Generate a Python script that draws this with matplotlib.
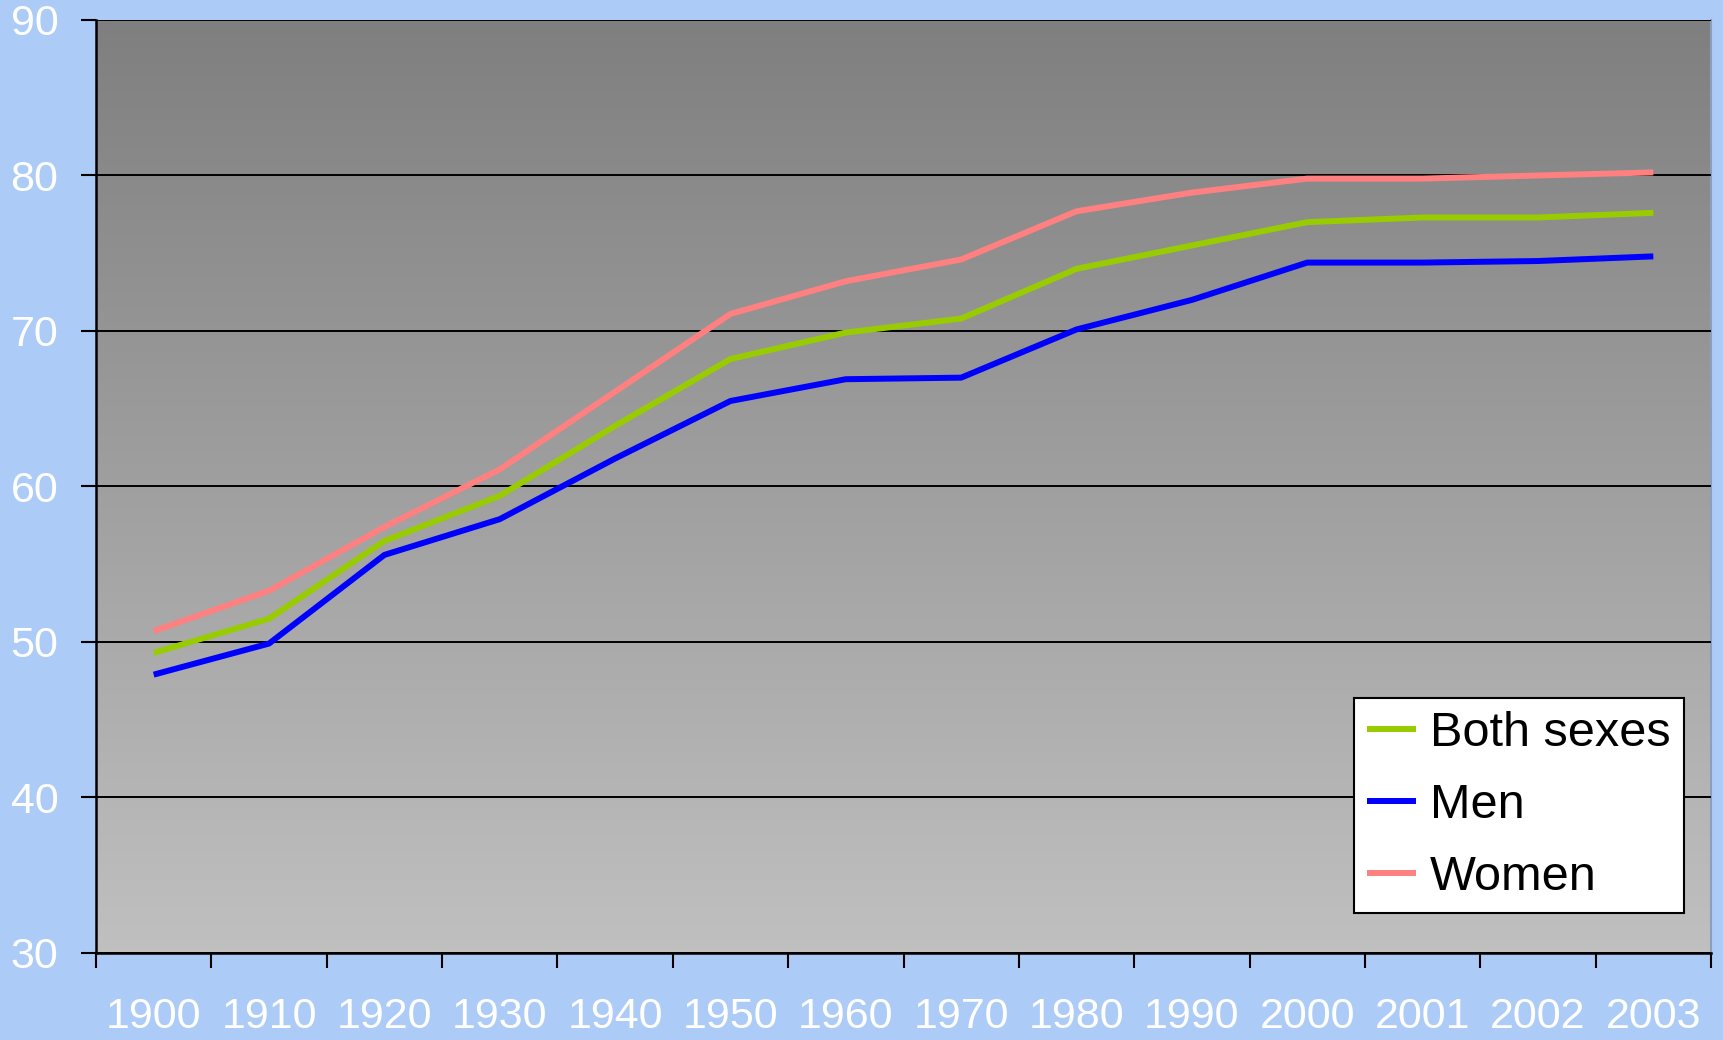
import numpy as np
import matplotlib
matplotlib.use("Agg")
import matplotlib.pyplot as plt
from matplotlib import font_manager as fm
from matplotlib.colors import LinearSegmentedColormap

years = ["1900", "1910", "1920", "1930", "1940", "1950", "1960", "1970",
         "1980", "1990", "2000", "2001", "2002", "2003"]
both_sexes = [49.3, 51.5, 56.5, 59.4, 63.9, 68.2, 69.9, 70.8, 74.0, 75.5, 77.0, 77.3, 77.3, 77.6]
men = [47.9, 49.9, 55.6, 57.9, 61.8, 65.5, 66.9, 67.0, 70.1, 72.0, 74.4, 74.4, 74.5, 74.8]
women = [50.7, 53.3, 57.4, 61.1, 66.1, 71.1, 73.2, 74.6, 77.7, 78.9, 79.8, 79.8, 80.0, 80.2]
series_names = ["Both sexes", "Men", "Women"]
yticks = [30, 40, 50, 60, 70, 80, 90]

names = {f.name for f in fm.fontManager.ttflist}
base = "Liberation Sans" if "Liberation Sans" in names else "DejaVu Sans"
narrow = "Liberation Sans Narrow" if "Liberation Sans Narrow" in names else base
plt.rcParams["font.family"] = [base, "DejaVu Sans"]

fig = plt.figure(figsize=(17.23, 10.40), dpi=100, facecolor="#ADCBF7")
ax = fig.add_axes([96/1723, 1-953/1040, (1711-96)/1723, (953-20)/1040])
ax.set_facecolor("none")

# gradient background
grad = np.linspace(0, 1, 256).reshape(-1, 1)
cmap = LinearSegmentedColormap.from_list("g", ["#7F7F7F", "#C0C0C0"])
ax.imshow(grad, aspect="auto", cmap=cmap, extent=[0, 1, 0, 1],
          transform=ax.transAxes, zorder=0, origin="upper")

x = np.arange(len(years))
colors = ["#99CC00", "#0000FF", "#FF8080"]
for vals, name, c in zip([both_sexes, men, women], series_names, colors):
    ax.plot(x, vals, color=c, lw=4.3, label=name, zorder=3, solid_capstyle="butt")

ax.set_xlim(-0.5, len(years) - 0.5)
ax.set_ylim(30, 90)
ax.set_yticks(yticks)
ax.set_yticklabels([str(v) for v in yticks], color="white", fontsize=31)
ax.yaxis.grid(True, color="black", lw=1.4, zorder=1)
ax.set_axisbelow(False)

ax.set_xticks(np.arange(-0.5, len(years), 1.0))
ax.set_xticklabels([])
ax.set_xticks(x, minor=True)
ax.set_xticklabels(years, minor=True, color="white", fontsize=31, family=[narrow, "DejaVu Sans"])
ax.tick_params(axis="x", which="minor", length=0, pad=32)
ax.tick_params(axis="x", which="major", length=11, width=1.5, direction="out", color="black")
ax.tick_params(axis="y", which="major", length=11, width=1.5, direction="out", color="black", pad=16)

ax.spines["top"].set_visible(False)
ax.spines["right"].set_color("#8A9FBF")
ax.spines["right"].set_linewidth(1.5)
ax.spines["left"].set_linewidth(1.8)
ax.spines["bottom"].set_linewidth(1.8)
ax.spines["left"].set_zorder(4)
ax.spines["bottom"].set_zorder(4)

leg = ax.legend(loc="lower right", bbox_to_anchor=((1684-96)/(1711-96), (953-913)/(953-20)),
                fontsize=35, frameon=True, fancybox=False, edgecolor="black",
                framealpha=1.0, handlelength=1.0, handletextpad=0.3,
                labelspacing=0.55, borderpad=0.27, borderaxespad=0)
leg.get_frame().set_linewidth(1.5)
leg.set_zorder(5)

fig.savefig("out.png", dpi=100, facecolor=fig.get_facecolor())
